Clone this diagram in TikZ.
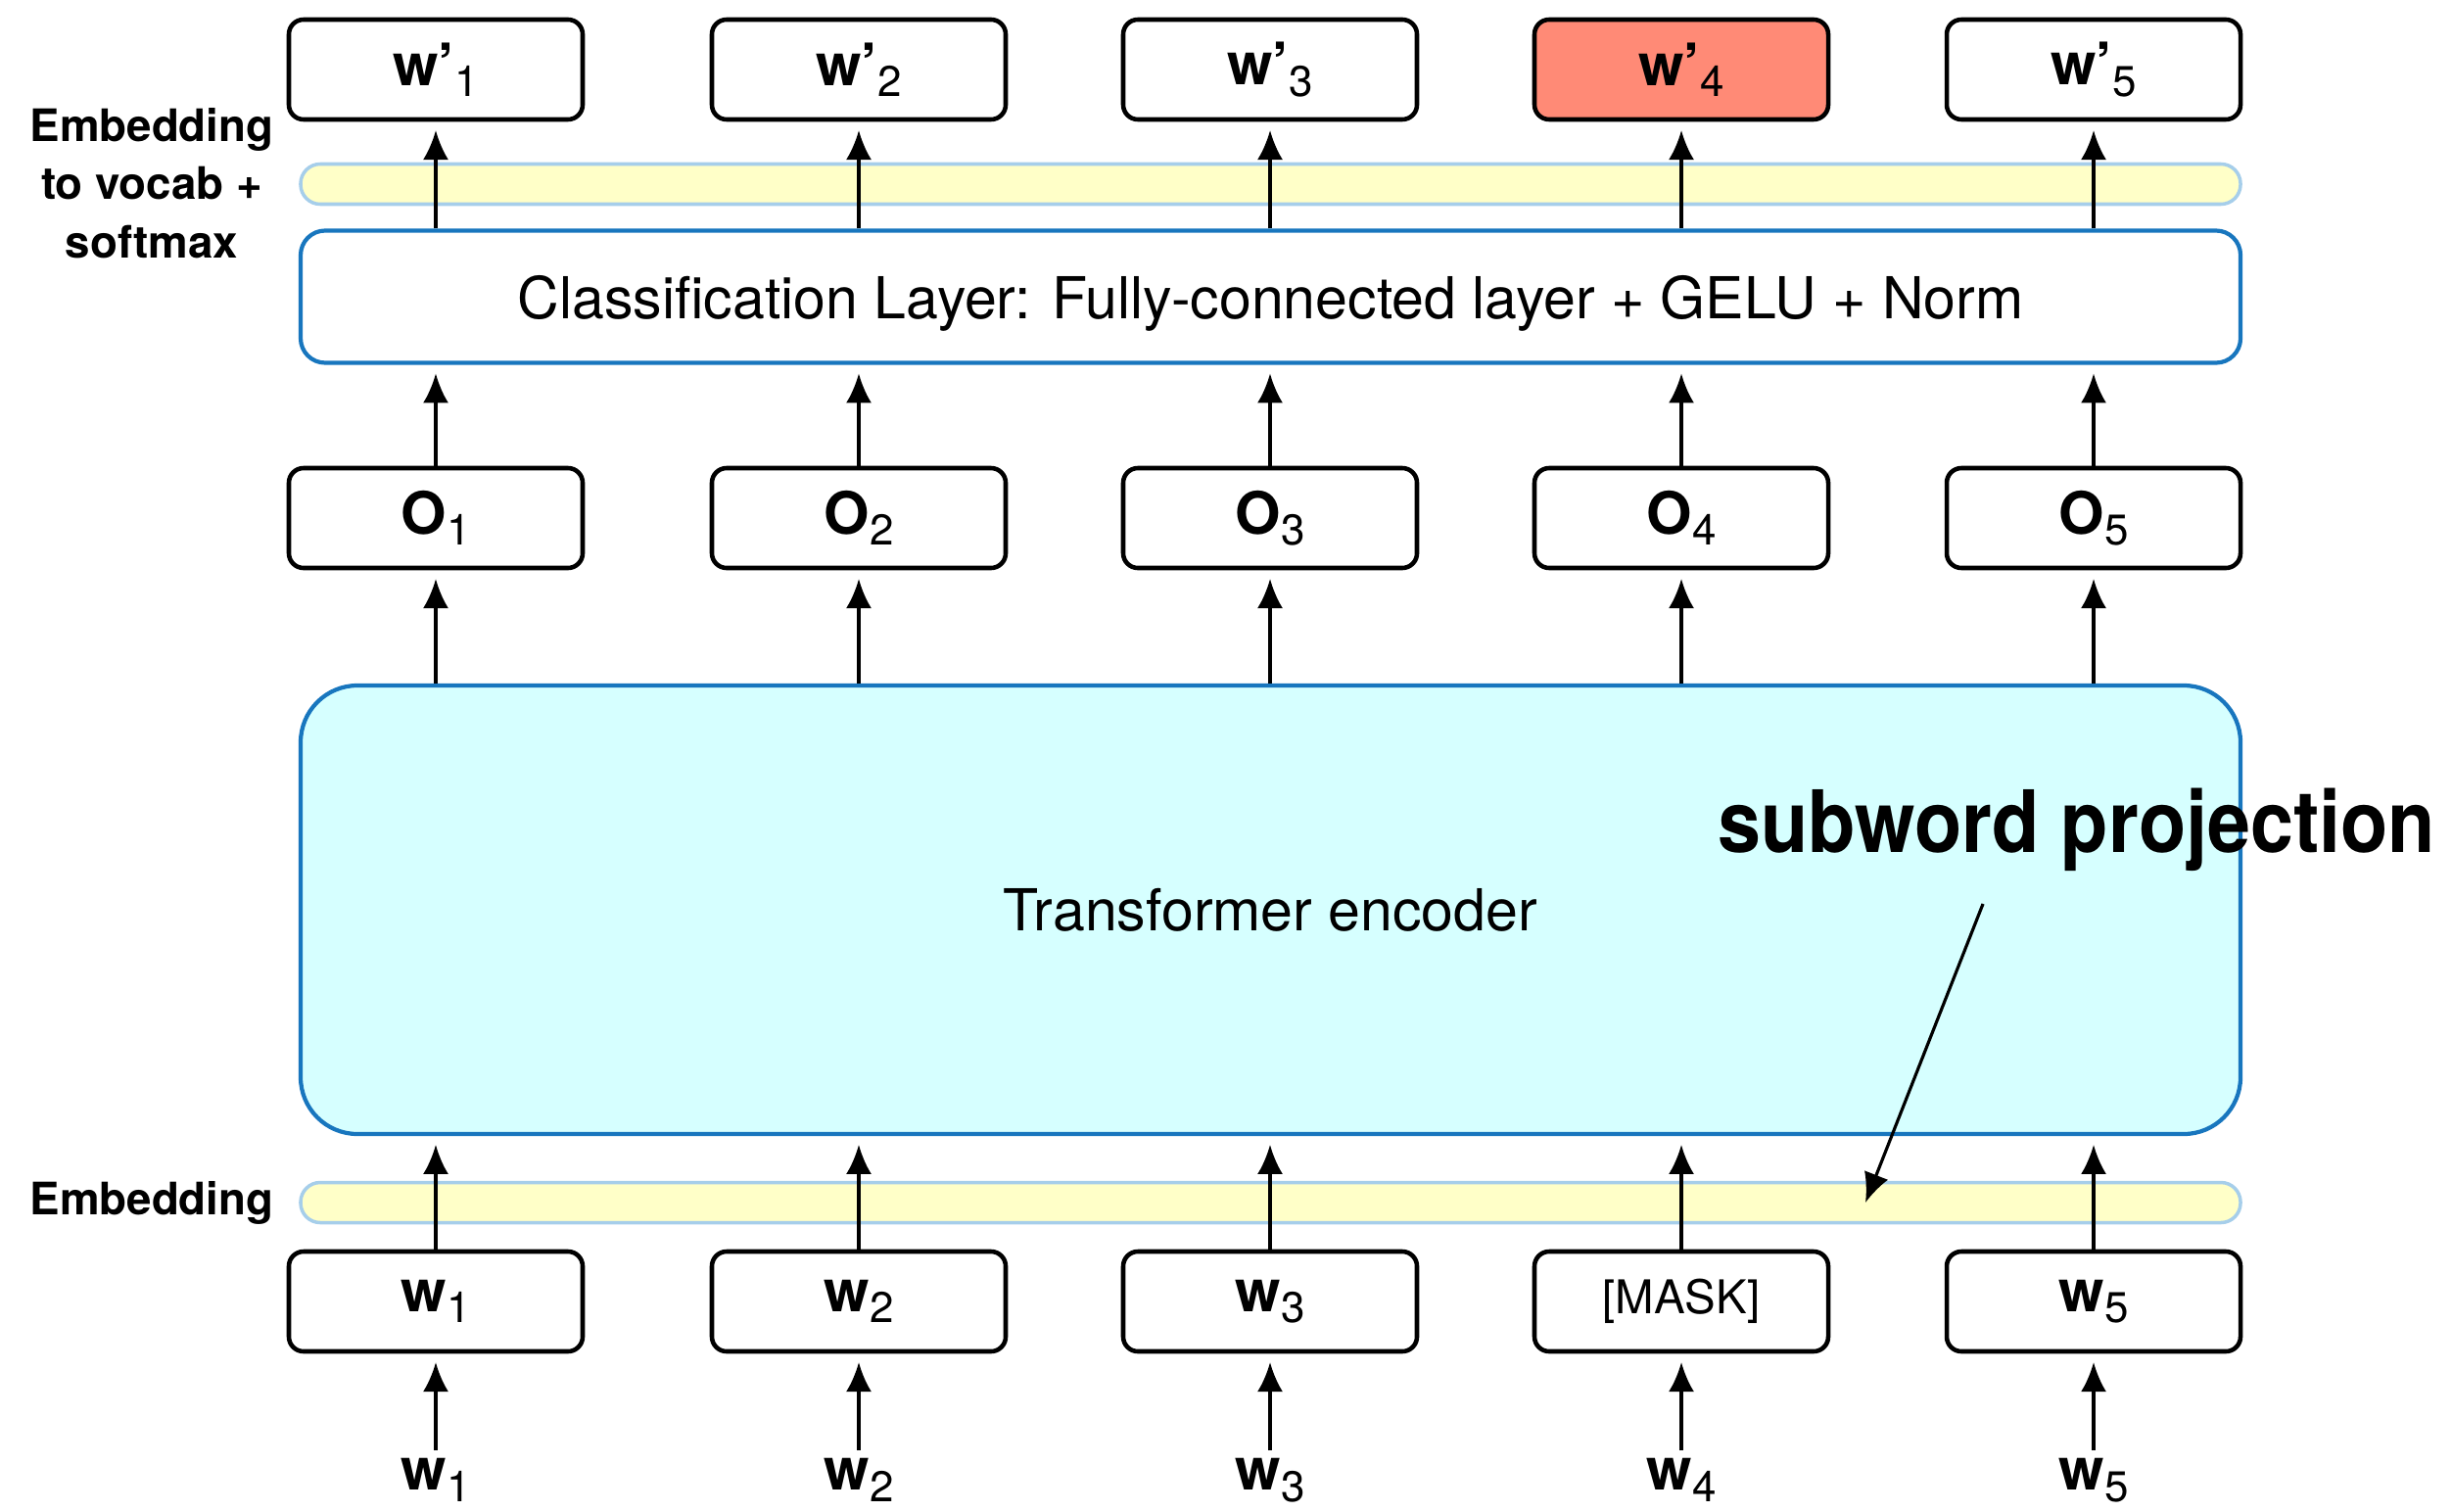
\documentclass[tikz,border=0pt]{standalone}
\usepackage{fontspec}
\usepackage{graphicx}
\setmainfont{TeX Gyre Heros}
\usetikzlibrary{arrows.meta}
\definecolor{bandfill}{RGB}{255,255,200}
\definecolor{bandline}{RGB}{166,206,234}
\definecolor{layerblue}{RGB}{24,118,190}
\definecolor{encfill}{RGB}{214,255,255}
\definecolor{maskred}{RGB}{255,138,118}
\newcommand{\idx}[1]{\raisebox{-0.35ex}{\fontsize{12.5}{12.5}\selectfont\mdseries #1}}
\begin{document}
\begin{tikzpicture}[->,>={Latex[length=3mm,width=2.6mm]},shorten >=2.5pt,line width=0.9pt]
	\def \rowout{14.72}
	\def \bandtop{13.55}
	\def \rowcls{12.40}
	\def \rowo{10.14}
	\def \rowenc{6.14}
	\def \bandbot{3.15}
	\def \rowin{2.14}
	\def \rowlab{0.62}
	\tikzstyle{tok-node}=[draw=black,line width=1.3pt,rounded corners=0.15cm,minimum width=3cm,minimum height=1.02cm,inner sep=0pt,font=\fontsize{17}{20}\selectfont\bfseries]
	\tikzstyle{band}=[draw=bandline,line width=1pt,fill=bandfill,rounded corners=0.2cm,minimum width=19.81cm,minimum height=0.41cm,inner sep=0pt]
	\tikzstyle{layer-box}=[draw=layerblue,line width=1.2pt,rounded corners=0.25cm,minimum width=19.81cm,minimum height=1.35cm,inner sep=0pt,font=\fontsize{16.8}{20}\selectfont]
	\tikzstyle{enc-box}=[layer-box,fill=encfill,rounded corners=0.58cm,minimum height=4.58cm]
	\tikzstyle{annot}=[font=\fontsize{13}{17}\selectfont\bfseries,align=center]
	\tikzstyle{in-label}=[anchor=north,inner sep=2pt,font=\fontsize{17}{20}\selectfont\bfseries]
	\useasboundingbox (0,0) rectangle (25.04,15.43);

	% labels
	\node[annot] (lab-top) at (1.55,13.56) {Embedding\\to vocab +\\softmax};
	\node[annot] (lab-bot) at (1.55,3.15) {Embedding};

	% layers
	\node[band] (band-top) at (12.975,\bandtop) {};
	\node[layer-box,text depth=0pt] (cls) at (12.975,\rowcls) {Classification Layer: Fully-connected layer + GELU + Norm};
	\node[enc-box] (enc) at (12.975,\rowenc) {Transformer encoder};
	\node[band] (band-bot) at (12.975,\bandbot) {};

	% predicted words
	\node[tok-node] (wp1) at (4.45,\rowout) {w'\idx{1}};
	\node[tok-node] (wp2) at (8.77,\rowout) {w'\idx{2}};
	\node[tok-node] (wp3) at (12.97,\rowout) {w'\idx{3}};
	\node[tok-node,fill=maskred] (wp4) at (17.17,\rowout) {w'\idx{4}};
	\node[tok-node] (wp5) at (21.38,\rowout) {w'\idx{5}};

	% encoder outputs
	\node[tok-node] (o1) at (4.45,\rowo) {O\idx{1}};
	\node[tok-node] (o2) at (8.77,\rowo) {O\idx{2}};
	\node[tok-node] (o3) at (12.97,\rowo) {O\idx{3}};
	\node[tok-node] (o4) at (17.17,\rowo) {O\idx{4}};
	\node[tok-node] (o5) at (21.38,\rowo) {O\idx{5}};

	% input tokens
	\node[tok-node] (w1) at (4.45,\rowin) {w\idx{1}};
	\node[tok-node] (w2) at (8.77,\rowin) {w\idx{2}};
	\node[tok-node] (w3) at (12.97,\rowin) {w\idx{3}};
	\node[tok-node,font=\fontsize{13.5}{16}\selectfont] (w4) at (17.17,\rowin) {[MASK]};
	\node[tok-node] (w5) at (21.38,\rowin) {w\idx{5}};

	\node[in-label] (in1) at (4.45,\rowlab) {w\idx{1}};
	\node[in-label] (in2) at (8.77,\rowlab) {w\idx{2}};
	\node[in-label] (in3) at (12.97,\rowlab) {w\idx{3}};
	\node[in-label] (in4) at (17.17,\rowlab) {w\idx{4}};
	\node[in-label] (in5) at (21.38,\rowlab) {w\idx{5}};

	% annotation
	\node[anchor=base west,inner sep=0pt,font=\fontsize{25}{30}\selectfont\bfseries] (sp) at (17.53,6.73) {\scalebox{0.9}[1]{subword projection}};
	\coordinate (sp-tail) at (20.25,6.20);
	\coordinate (sp-head) at (19.05,3.15);

	\path
		(in1)	edge	(w1)
		(in2)	edge	(w2)
		(in3)	edge	(w3)
		(in4)	edge	(w4)
		(in5)	edge	(w5)
		%
		(w1.north)	edge	(w1.north |- enc.south)
		(w2.north)	edge	(w2.north |- enc.south)
		(w3.north)	edge	(w3.north |- enc.south)
		(w4.north)	edge	(w4.north |- enc.south)
		(w5.north)	edge	(w5.north |- enc.south)
		%
		(o1.south |- enc.north)	edge	(o1)
		(o2.south |- enc.north)	edge	(o2)
		(o3.south |- enc.north)	edge	(o3)
		(o4.south |- enc.north)	edge	(o4)
		(o5.south |- enc.north)	edge	(o5)
		%
		(o1.north)	edge	(o1.north |- cls.south)
		(o2.north)	edge	(o2.north |- cls.south)
		(o3.north)	edge	(o3.north |- cls.south)
		(o4.north)	edge	(o4.north |- cls.south)
		(o5.north)	edge	(o5.north |- cls.south)
		%
		(wp1.south |- cls.north)	edge	(wp1)
		(wp2.south |- cls.north)	edge	(wp2)
		(wp3.south |- cls.north)	edge	(wp3)
		(wp4.south |- cls.north)	edge	(wp4)
		(wp5.south |- cls.north)	edge	(wp5);

	\draw[shorten >=0pt] (sp-tail) -- (sp-head);
\end{tikzpicture}
\end{document}
